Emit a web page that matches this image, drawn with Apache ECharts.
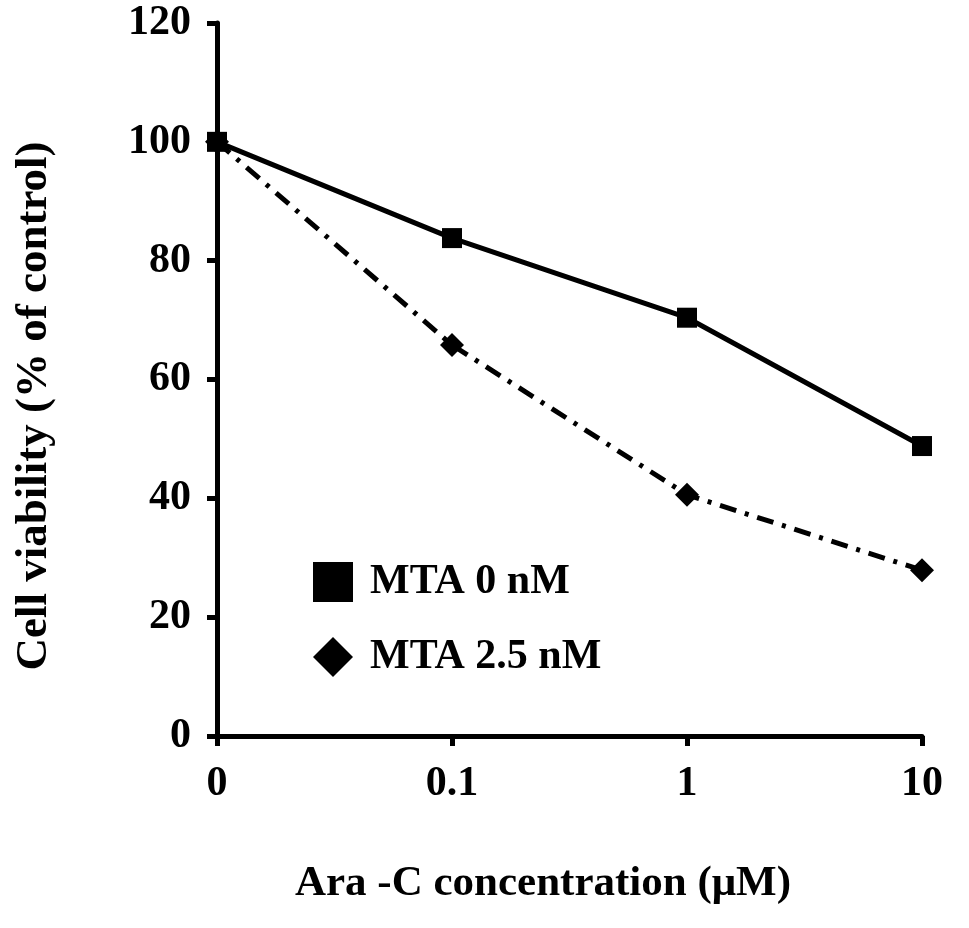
<!DOCTYPE html>
<html>
<head>
<meta charset="utf-8">
<script src="https://cdn.jsdelivr.net/npm/echarts@6/dist/echarts.min.js"></script>
<style>
html,body{margin:0;padding:0;background:#fff;}
#c{width:969px;height:928px;}
</style>
</head>
<body>
<div id="c"></div>
<script>
const categories = ['0', '0.1', '1', '10'];
const mta0 = [100, 83.8, 70.4, 48.8];
const mta25 = [100, 65.8, 40.6, 27.9];
const seriesNames = ['MTA 0 nM', 'MTA 2.5 nM'];
const yTicks = { min: 0, max: 120, interval: 20 };
const xTitle = 'Ara -C concentration (\u03bcM)';
const yTitle = 'Cell viability (% of control)';

const FONT = "'Liberation Serif', 'Times New Roman', serif";
const chart = echarts.init(document.getElementById('c'), null, { renderer: 'canvas' });
chart.setOption({
  backgroundColor: '#fff',
  animation: false,
  grid: { left: 217, right: 47, top: 23, bottom: 192, containLabel: false },
  xAxis: {
    type: 'category',
    data: categories,
    boundaryGap: false,
    axisLine: { lineStyle: { color: '#000', width: 5 } },
    axisTick: { show: true, alignWithLabel: true, length: 10, lineStyle: { color: '#000', width: 5 } },
    axisLabel: { color: '#000', fontFamily: FONT, fontWeight: 'bold', fontSize: 42, margin: 27 },
    splitLine: { show: false }
  },
  yAxis: {
    type: 'value',
    min: yTicks.min, max: yTicks.max, interval: yTicks.interval,
    axisLine: { show: true, lineStyle: { color: '#000', width: 5 } },
    axisTick: { show: true, length: 10, lineStyle: { color: '#000', width: 5 } },
    axisLabel: { color: '#000', fontFamily: FONT, fontWeight: 'bold', fontSize: 42, margin: 26 },
    splitLine: { show: false }
  },
  legend: {
    orient: 'vertical',
    left: 308,
    top: 556,
    itemWidth: 40,
    itemHeight: 40,
    itemGap: 33,
    data: [
      { name: seriesNames[0], icon: 'rect' },
      { name: seriesNames[1], icon: 'diamond' }
    ],
    textStyle: { color: '#000', fontFamily: FONT, fontWeight: 'bold', fontSize: 42, padding: [0, 0, 0, 12] }
  },
  series: [
    {
      name: seriesNames[0],
      type: 'line',
      data: mta0,
      symbol: 'rect',
      symbolSize: 20,
      itemStyle: { color: '#000' },
      lineStyle: { color: '#000', width: 5, type: 'solid' },
      z: 3
    },
    {
      name: seriesNames[1],
      type: 'line',
      data: mta25,
      symbol: 'diamond',
      symbolSize: 24,
      itemStyle: { color: '#000' },
      lineStyle: { color: '#000', width: 5, type: [17, 9, 4, 9] },
      z: 2
    }
  ],
  graphic: [
    {
      type: 'text',
      x: 543, y: 884,
      style: { text: xTitle, fill: '#000', font: "bold 43px " + FONT, textAlign: 'center', textVerticalAlign: 'middle' }
    },
    {
      type: 'text',
      x: 34, y: 406,
      rotation: Math.PI / 2,
      style: { text: yTitle, fill: '#000', font: "bold 45px " + FONT, textAlign: 'center', textVerticalAlign: 'middle' }
    }
  ]
});
</script>
</body>
</html>
